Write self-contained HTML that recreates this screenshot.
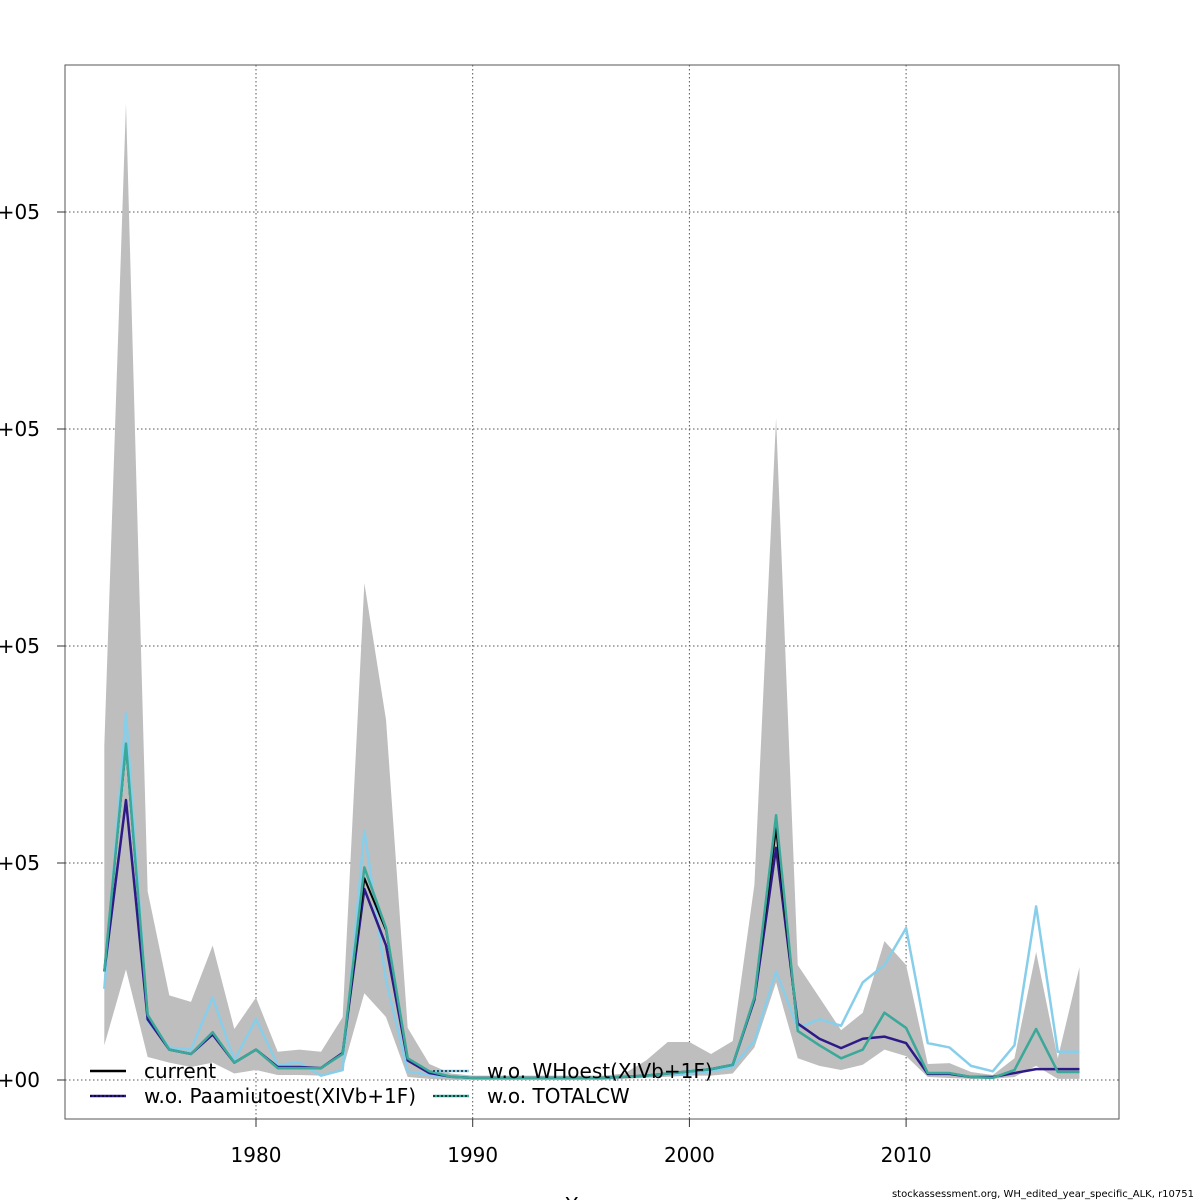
<!DOCTYPE html>
<html><head><meta charset="utf-8"><style>
html,body{margin:0;padding:0;background:#fff;width:1200px;height:1200px;overflow:hidden}
svg text{font-family:"DejaVu Sans","Liberation Sans",sans-serif}
</style></head><body>
<svg id="chart" width="1200" height="1200" xmlns="http://www.w3.org/2000/svg">
<g id="grid"></g>
<g id="band"></g>
<g id="series"></g>
<rect x="65" y="65" width="1054" height="1054" fill="none" stroke="#555" stroke-width="1"/>
<g id="axes"></g>
<g id="legend"></g>
<text x="592" y="1212" font-size="20" text-anchor="middle">Years</text>
<text x="1194" y="1197" font-size="10" text-anchor="end">stockassessment.org, WH_edited_year_specific_ALK, r10751</text>
</svg>
<script>
const years = [];
for (let y = 1973; y <= 2018; y++) years.push(y);
// values in thousands
const current = [50,154,30,14,12,22,8,14,5.5,5.5,5.5,12,93,69,10,4,1.5,1,1,1,1,1,1,1,1.5,2,3,4,5,7,38,116,22.6,16,10,14,31,24,3.2,3.2,1.4,1,4.6,23.5,3.7,3.7];
const paamiut = [50,129,28,14,12,21,8,14,6,6,5.5,12.5,88,62,9,3.2,1.5,1,1,1,1,1,1,1,1.5,2,3,4,5,7,37,107,26,19,14.7,19,20,17,2.8,2.8,1.4,1.4,3.2,5,5,5];
const whoest = [42,169,27,15,14,38,9,28,7,8,2,4.6,115,46,4,2.3,1.4,1,1,1,1,1,1,1,1.5,2,2.5,3,4,6,18,50,24,28,25,45,53,70,17,15,6.5,4,16,80,13,13];
const totalcw = [50,155,30,14,12,22,8,14,5.5,5.5,5.5,12,98,70,10,4,1.5,1,1,1,1,1,1,1,1.5,2,3,4,5,7,38,122,22.6,16,10,14,31,24,3.2,3.2,1.4,1,4.6,23.5,3.7,3.7];
const upper = [154,450,87,39,36,62,23.5,38,13,14,13,29,229,166,24,7.4,3,2,2,2,2,2,2,2,3,9,17.5,17.5,12,18,90,305,53,38,23,31,64,53,7.4,7.8,3.7,2.3,10,59,10,52];
const lower = [16,51,10.6,8,6,8,3,4.6,2.3,2.3,2,4.6,40,29,1.4,0.5,0,0,0,0,0,0,0,0,0.5,1,1.5,2,2,3,15,45,10,6.5,4.6,7,14,11,1.4,0.9,0.5,0.5,1.4,6.5,0.5,0.5];
const yTicks = [0,100,200,300,400];
const yTickLabels = ["0e+00","1e+05","2e+05","3e+05","4e+05"];
const xTicks = [1980,1990,2000,2010];

const NS = "http://www.w3.org/2000/svg";
const xs = y => 256 + (y - 1980) * 21.67;
const ys = v => 1080 - v * 2.17;
function mk(tag, attrs, parent){const e=document.createElementNS(NS,tag);for(const k in attrs)e.setAttribute(k,attrs[k]);parent.appendChild(e);return e;}

const grid = document.getElementById('grid');
const axes = document.getElementById('axes');
yTicks.forEach((v,i)=>{
  const l = mk('line',{x1:65,x2:1119,y1:ys(v),y2:ys(v),stroke:'#555','stroke-dasharray':'1.5,2.5','stroke-width':1},grid);
  
  
  const t = mk('line',{x1:57,x2:65,y1:ys(v),y2:ys(v),stroke:'#333'},axes);
  
  
  const tx = mk('text',{x:40,y:ys(v)+7,'font-size':20,'text-anchor':'end'},axes);
  tx.textContent = yTickLabels[i];
  
  
});
xTicks.forEach(v=>{
  const l = mk('line',{x1:xs(v),x2:xs(v),y1:65,y2:1119,stroke:'#555','stroke-dasharray':'1.5,2.5','stroke-width':1},grid);
  
  
  const t = mk('line',{x1:xs(v),x2:xs(v),y1:1119,y2:1127,stroke:'#333'},axes);
  
  
  const tx = mk('text',{x:xs(v),y:1162,'font-size':20,'text-anchor':'middle'},axes);
  tx.textContent = v;
  
  
});

const band = document.getElementById('band');
let pts = years.map((y,i)=>xs(y)+','+ys(upper[i]));
pts = pts.concat(years.slice().reverse().map((y,j)=>{const i=years.length-1-j;return xs(y)+','+ys(lower[i]);}));
const poly = mk('polygon',{points:pts.join(' '),fill:'#bebebe'},band);



const seriesG = document.getElementById('series');
function line(arr,color,w,name){
  const p = mk('polyline',{points:years.map((y,i)=>xs(y)+','+ys(arr[i])).join(' '),fill:'none',stroke:color,'stroke-width':w,'stroke-linejoin':'round'},seriesG);
  
  
}
line(whoest,'#87ceeb',2.5,'line-wo-whoest');
line(paamiut,'#2e1a87',2.5,'line-wo-paamiut');
line(current,'#000',2,'line-current');
line(totalcw,'#3aa99a',2.5,'line-wo-totalcw');

const lg = document.getElementById('legend');
const entries = [
  {x:90,y:1071,c:'#000',dot:false,t:'current'},
  {x:90,y:1096,c:'#2e1a87',dot:true,t:'w.o. Paamiutoest(XIVb+1F)'},
  {x:433,y:1071,c:'#87ceeb',dot:true,t:'w.o. WHoest(XIVb+1F)'},
  {x:433,y:1096,c:'#3aa99a',dot:true,t:'w.o. TOTALCW'}
];
entries.forEach(e=>{
  const g = mk('g',{},lg);
  
  
  mk('line',{x1:e.x,x2:e.x+36,y1:e.y,y2:e.y,stroke:e.c,'stroke-width':2.5},g);
  if(e.dot) mk('line',{x1:e.x,x2:e.x+36,y1:e.y,y2:e.y,stroke:'#000','stroke-width':1.2,'stroke-dasharray':'2,2'},g);
  const t = mk('text',{x:e.x+54,y:e.y+7,'font-size':20},g);
  t.textContent = e.t;
});
</script>
</body></html>
